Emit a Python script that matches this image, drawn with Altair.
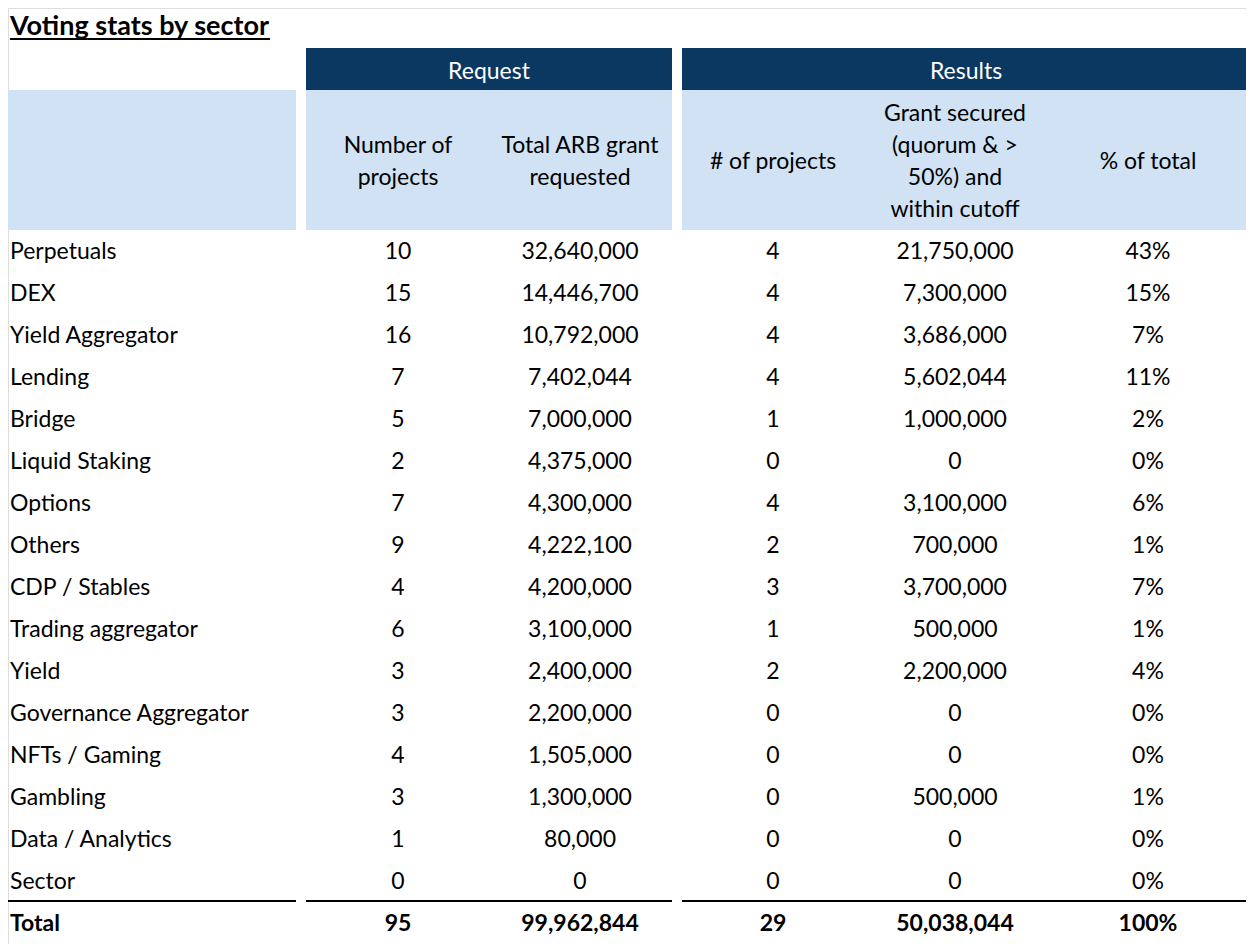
import altair as alt
import pandas as pd

# ---------------- data ----------------
sectors = ["Perpetuals", "DEX", "Yield Aggregator", "Lending", "Bridge", "Liquid Staking",
           "Options", "Others", "CDP / Stables", "Trading aggregator", "Yield",
           "Governance Aggregator", "NFTs / Gaming", "Gambling", "Data / Analytics", "Sector"]
num_projects = [10, 15, 16, 7, 5, 2, 7, 9, 4, 6, 3, 3, 4, 3, 1, 0]
arb_requested = [32640000, 14446700, 10792000, 7402044, 7000000, 4375000, 4300000, 4222100,
                 4200000, 3100000, 2400000, 2200000, 1505000, 1300000, 80000, 0]
funded_projects = [4, 4, 4, 4, 1, 0, 4, 2, 3, 1, 2, 0, 0, 0, 0, 0]
grant_secured = [21750000, 7300000, 3686000, 5602044, 1000000, 0, 3100000, 700000,
                 3700000, 500000, 2200000, 0, 0, 500000, 0, 0]
pct_of_total = [0.43, 0.15, 0.07, 0.11, 0.02, 0.0, 0.06, 0.01, 0.07, 0.01, 0.04, 0.0, 0.0, 0.01, 0.0, 0.0]

total_label = "Total"
total_num_projects = 95
total_arb_requested = 99962844
total_funded_projects = 29
total_grant_secured = 50038044
total_pct = 1.0

title_text = "Voting stats by sector"
group_headers = ["Request", "Results"]
col_headers = [["Number of", "projects"], ["Total ARB grant", "requested"], ["# of projects"],
               ["Grant secured", "(quorum & >", "50%) and", "within cutoff"], ["% of total"]]

# ---------------- layout (page pixels; chart origin is at 8,8) ----------------
M = 8
W, H = 1254 - 2 * M, 952 - 2 * M
FONT = "Lato"
FS = 23
LH = 32
DARK = "#0B3861"
LIGHT = "#D0E2F4"

def px(v):
    return v - M

col_x = [398, 580, 773, 955, 1148]

rows = pd.DataFrame({
    "row": list(range(len(sectors))),
    "sector": sectors,
    "n": num_projects,
    "arb": arb_requested,
    "nf": funded_projects,
    "grant": grant_secured,
    "pct": pct_of_total,
})
tot = pd.DataFrame({
    "row": [len(sectors)],
    "sector": [total_label],
    "n": [total_num_projects],
    "arb": [total_arb_requested],
    "nf": [total_funded_projects],
    "grant": [total_grant_secured],
    "pct": [total_pct],
})

yscale = alt.Scale(domain=[0, 16], range=[px(252), px(252 + 16 * 42)])

def table_layers(df, weight):
    base = alt.Chart(df)
    y = alt.Y("row:Q", scale=yscale, axis=None)
    out = [
        base.mark_text(align="left", baseline="middle", font=FONT, fontSize=FS,
                       fontWeight=weight, color="black").encode(
            x=alt.value(px(10)), y=y, text="sector:N"),
    ]
    fields = [("n", ","), ("arb", ","), ("nf", ","), ("grant", ","), ("pct", ".0%")]
    for (f, fmt), cx in zip(fields, col_x):
        out.append(base.mark_text(align="center", baseline="middle", font=FONT, fontSize=FS,
                                  fontWeight=weight, color="black").encode(
            x=alt.value(px(cx)), y=y, text=alt.Text(f"{f}:Q", format=fmt)))
    return out

one = pd.DataFrame({"k": [0]})
base1 = alt.Chart(one)

def rect(x1, x2, y1, y2, color):
    return base1.mark_rect(color=color).encode(
        x=alt.value(px(x1)), x2=alt.value(px(x2)), y=alt.value(px(y1)), y2=alt.value(px(y2)))

def rule(x1, x2, yv, width=2):
    return base1.mark_rule(color="black", strokeWidth=width).encode(
        x=alt.value(px(x1)), x2=alt.value(px(x2)), y=alt.value(px(yv)))

def label(lines, x, yc, color="black", weight="normal", align="center", size=FS,
          baseline="middle"):
    if isinstance(lines, str):
        lines = [lines]
    y_first = yc - (len(lines) - 1) * LH / 2
    kw = dict(align=align, baseline=baseline, font=FONT, fontSize=size,
              fontWeight=weight, color=color)
    if len(lines) > 1:
        kw["lineHeight"] = LH
        text = lines
    else:
        text = lines[0]
    return base1.mark_text(text=text, **kw).encode(
        x=alt.value(px(x)), y=alt.value(px(y_first)))

layers = [
    # header backgrounds
    rect(306, 672, 48, 90, DARK),
    rect(682, 1250, 48, 90, DARK),
    rect(0, 296, 90, 230, LIGHT),
    rect(306, 672, 90, 230, LIGHT),
    rect(682, 1250, 90, 230, LIGHT),
    # title
    label(title_text, 10, 35, weight="bold", align="left", size=27, baseline="alphabetic"),
    rule(10, 270, 39, 2),
    # group headers
    label(group_headers[0], 489, 72, color="white"),
    label(group_headers[1], 966, 72, color="white"),
]
for t, cx in zip(col_headers, col_x):
    layers.append(label(t, cx, 162))

# separators above total
layers += [rule(8, 296, 901), rule(306, 672, 901), rule(682, 1250, 901)]

layers += table_layers(rows, "normal")
layers += table_layers(tot, "bold")

chart = alt.layer(*layers).properties(
    width=W, height=H, padding=0, autosize=alt.AutoSizeParams(type="none")
).configure_view(stroke="transparent", strokeWidth=0).configure(background="white")

chart.save("out.html", embed_options={"renderer": "svg", "actions": False})
